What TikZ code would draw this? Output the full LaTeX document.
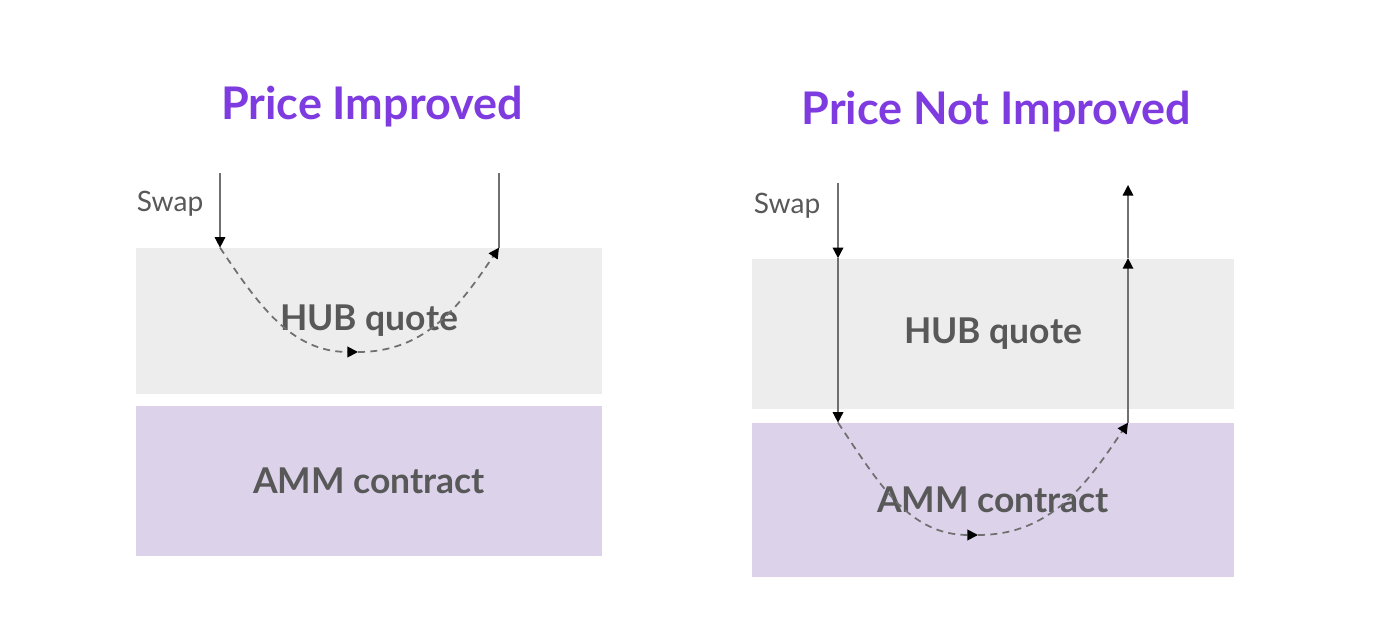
\documentclass[tikz,border=0pt]{standalone}
\usepackage{fontspec}
\setmainfont{Lato}
\usepackage{tikz}
\usetikzlibrary{arrows.meta, positioning, calc}
\definecolor{hubgray}{HTML}{EDEDED}
\definecolor{ammlilac}{HTML}{DCD3EB}
\definecolor{titlepurple}{HTML}{7E3BE0}
\definecolor{labelgray}{HTML}{585858}
\definecolor{linegray}{HTML}{707070}

\begin{document}
\begin{tikzpicture}[x=0.02cm, y=-0.02cm, >={Triangle[length=6pt, width=6pt, color=black]},
title/.style={font=\fontsize{25.6}{30}\selectfont\bfseries, text=titlepurple},
layer/.style={inner sep=0pt, font=\fontsize{20.2}{24}\selectfont\bfseries, text=labelgray},
flow/.style={->, draw=linegray, line width=0.9pt},
dflow/.style={->, draw=linegray, line width=1pt, dash pattern=on 4pt off 3pt}
]
    \useasboundingbox (0, 0) rectangle (1378, 644);

    % Price improved
    \node (title1) at (372, 107) [title] {Price Improved};
    \node (hub1) at (369, 321) [layer, fill=hubgray, minimum width=9.32cm, minimum height=2.92cm] {HUB quote};
    \node (amm1) at (369, 481) [layer, fill=ammlilac, minimum width=9.32cm, minimum height=3.0cm] {AMM contract};
    \node (swap1) at (170, 204) [font=\fontsize{16}{19}\selectfont, text=labelgray] {Swap};

    \coordinate (in1) at (220, 173);
    \coordinate (out1) at (499, 173);
    \coordinate (low1) at (358, 352);
    \draw [flow] (in1) -- (hub1.north -| in1);
    \draw [dflow] (hub1.north -| in1) to [out=-56, in=180] (low1);
    \draw [dflow] (low1) to [out=0, in=-124] (hub1.north -| out1);
    \draw [draw=linegray, line width=0.9pt] (hub1.north -| out1) -- (out1);

    % Price not improved
    \node (title2) at (996, 112) [title] {Price Not Improved};
    \node (hub2) at (993, 334) [layer, fill=hubgray, minimum width=9.66cm, minimum height=3.02cm] {HUB quote};
    \node (amm2) at (993, 500) [layer, fill=ammlilac, minimum width=9.66cm, minimum height=3.08cm] {AMM contract};
    \node (swap2) at (787, 206) [font=\fontsize{16}{19}\selectfont, text=labelgray] {Swap};

    \coordinate (in2) at (838, 183);
    \coordinate (out2) at (1128, 185);
    \coordinate (low2) at (978, 535);
    \draw [flow] (in2) -- (hub2.north -| in2);
    \draw [flow] (hub2.north -| in2) -- (amm2.north -| in2);
    \draw [dflow] (amm2.north -| in2) to [out=-56, in=180] (low2);
    \draw [dflow] (low2) to [out=0, in=-124] (amm2.north -| out2);
    \draw [flow] (amm2.north -| out2) -- (hub2.north -| out2);
    \draw [flow] (hub2.north -| out2) -- (out2);

\end{tikzpicture}
\end{document}
